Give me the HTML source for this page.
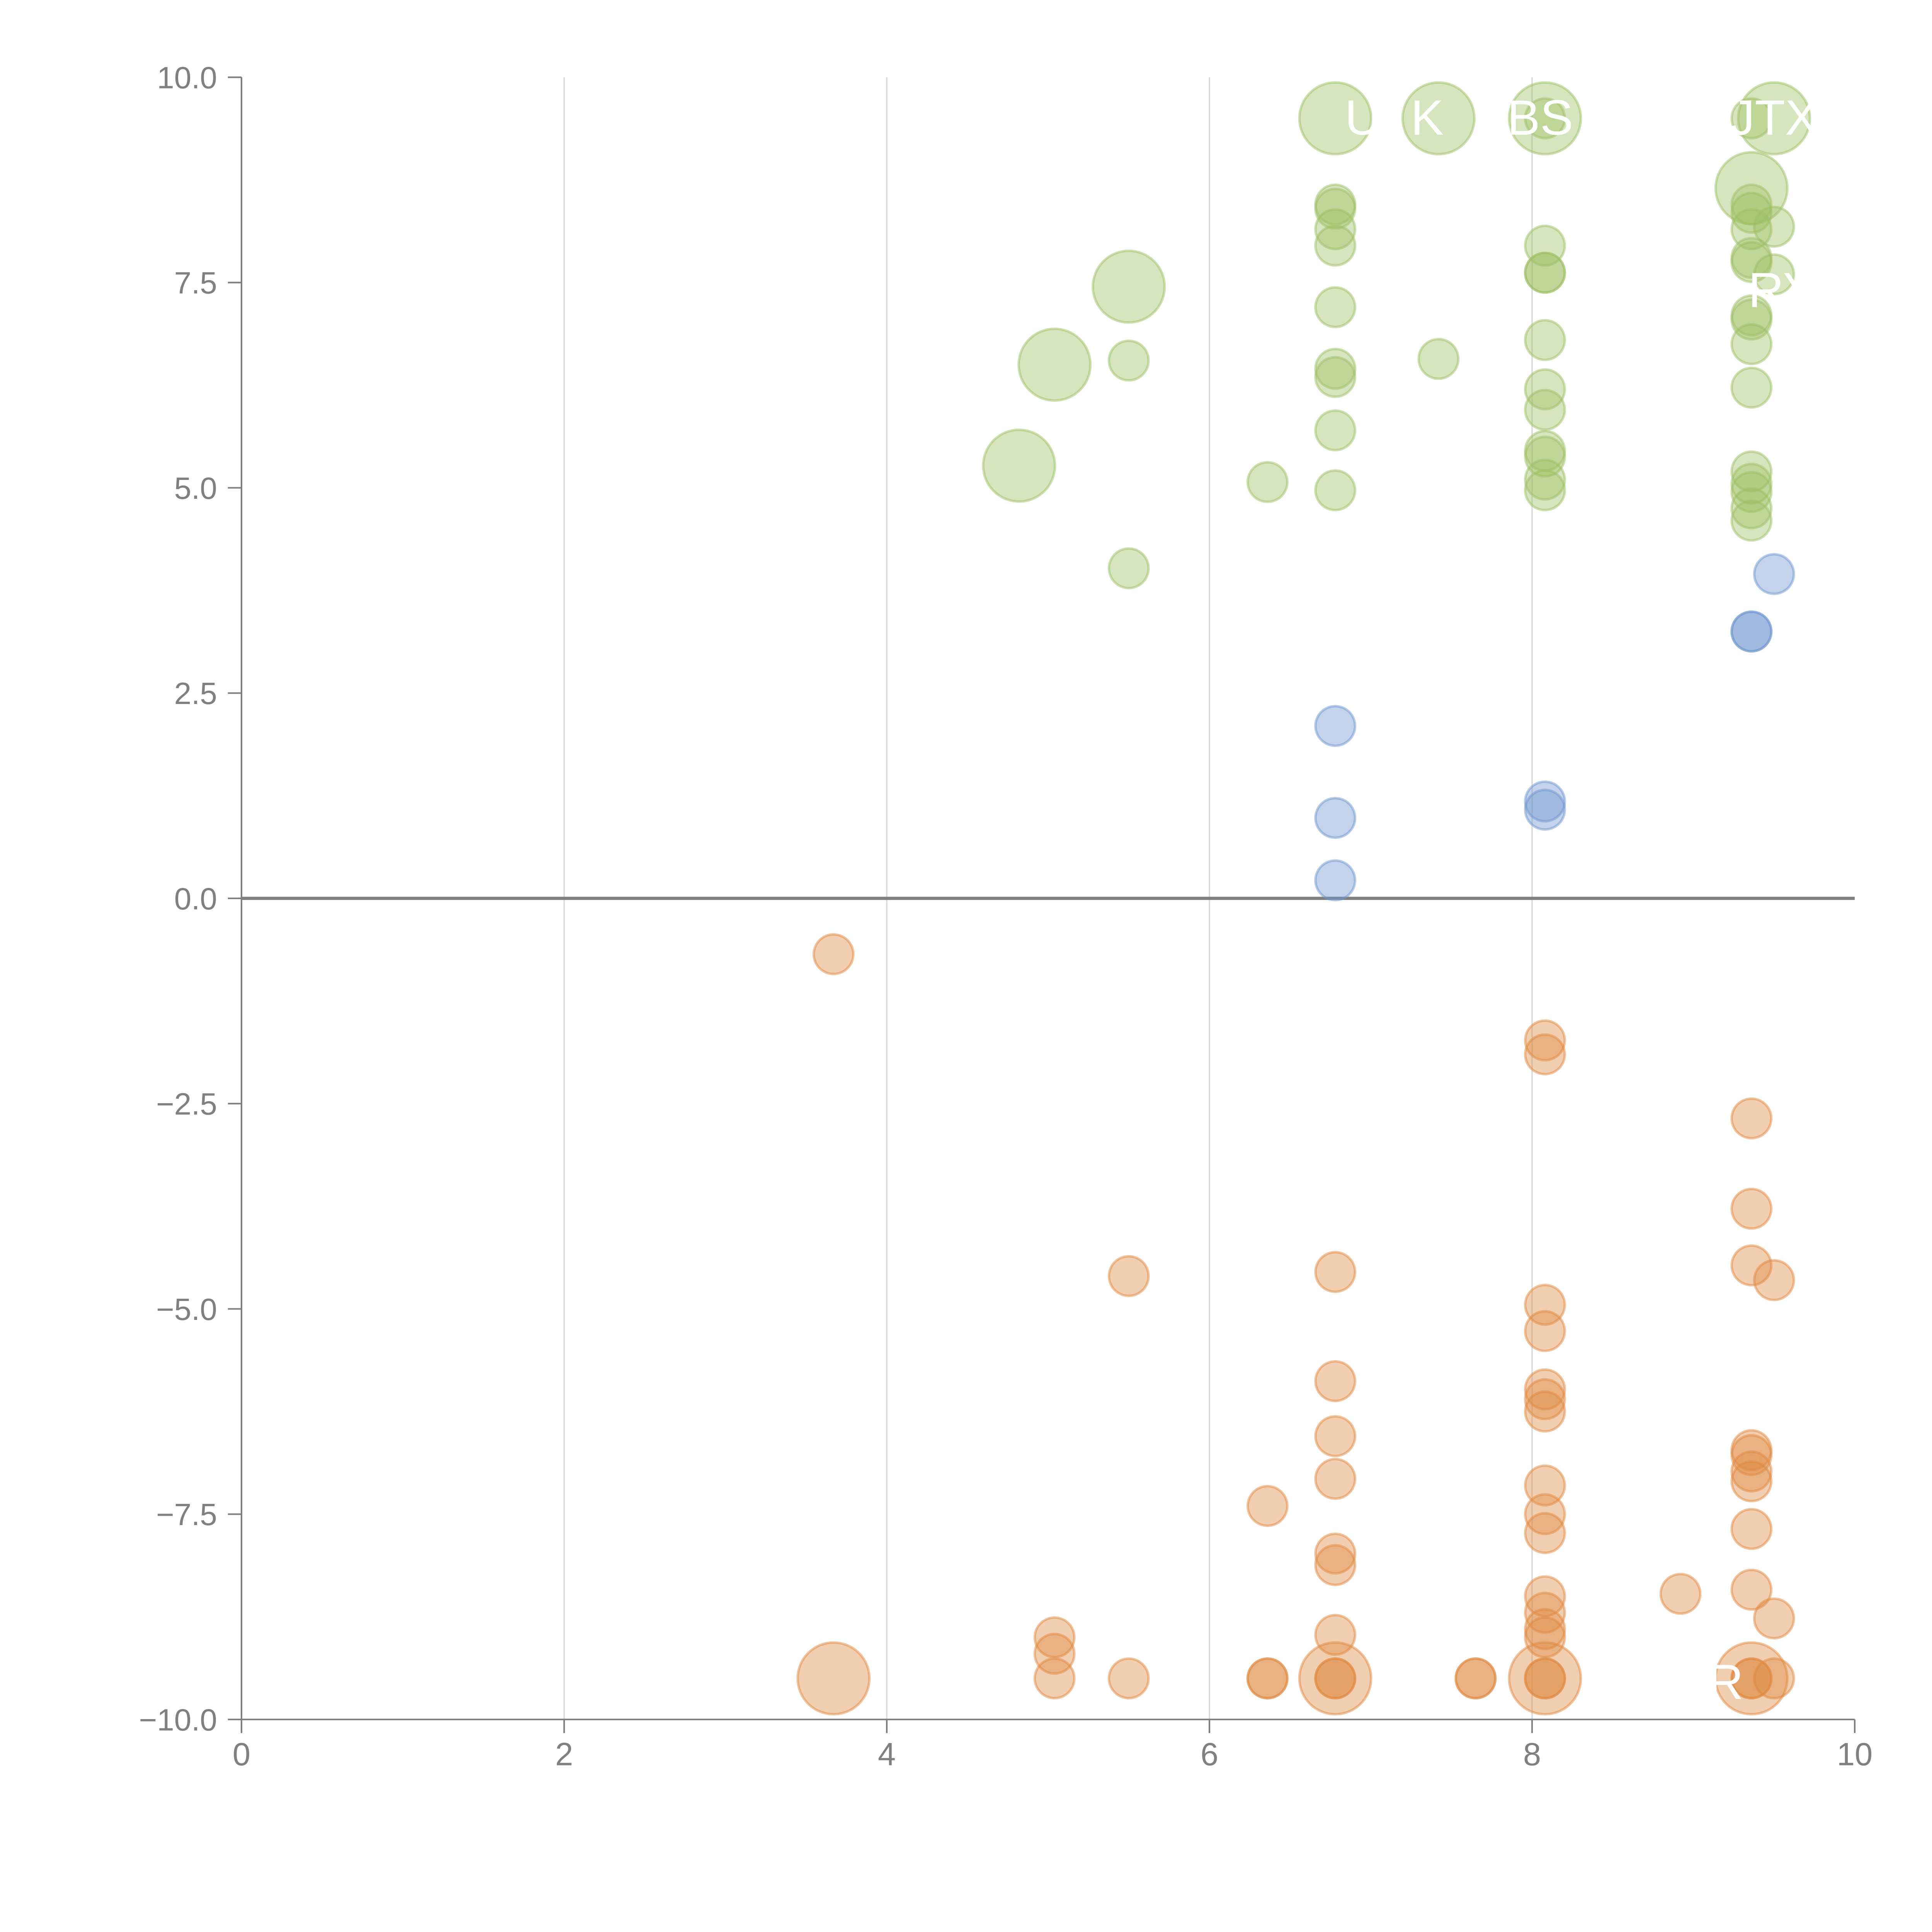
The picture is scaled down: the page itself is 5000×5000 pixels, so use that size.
<!DOCTYPE html>
<html><head><meta charset="utf-8"><style>
html,body{margin:0;padding:0;background:#fff;}
svg{display:block;}
text{font-family:"Liberation Sans",sans-serif;}
</style></head><body>
<svg id="chart" width="5000" height="5000" viewBox="0 0 1562.5 1562.5" xmlns="http://www.w3.org/2000/svg">
<g id="grid"></g>
<g id="axes"></g>
<g id="marks"></g>
<g id="labels"></g>
</svg>
<script>
const greenX=[6.78,7.42,8.08,8.08,9.36,9.5,9.36,6.78,6.78,6.78,6.78,6.78,6.78,6.78,6.78,6.78,5.5,5.5,5.5,5.04,4.82,6.36,7.42,8.08,8.08,8.08,8.08,8.08,8.08,8.08,8.08,8.08,8.08,9.36,9.36,9.36,9.36,9.36,9.36,9.36,9.36,9.36,9.36,9.36,9.36,9.36,9.36,9.5,9.5];
const greenY=[9.5,9.5,9.5,9.5,9.5,9.5,8.65,8.45,8.4,8.15,7.95,7.2,6.45,6.35,5.7,4.97,7.45,6.55,4.02,6.5,5.27,5.07,6.57,7.95,7.62,7.62,6.8,6.2,5.95,5.45,5.38,5.1,4.97,8.45,8.35,8.15,7.8,7.75,7.1,7.05,6.75,6.22,5.2,5.05,4.95,4.75,4.6,8.18,7.6];
const greenBig=[1,1,1,0,0,1,1,0,0,0,0,0,0,0,0,0,1,0,0,1,1,0,0,0,0,0,0,0,0,0,0,0,0,0,0,0,0,0,0,0,0,0,0,0,0,0,0,0,0];
const blueX=[9.5,9.36,9.36,6.78,6.78,6.78,8.08,8.08];
const blueY=[3.95,3.25,3.25,2.1,0.98,0.22,1.18,1.08];
const orangeX=[3.67,8.08,8.08,9.36,9.36,9.36,9.5,5.5,6.78,8.08,8.08,6.78,8.08,8.08,8.08,6.78,9.36,9.36,9.36,9.36,6.78,8.08,6.36,8.08,8.08,9.36,6.78,6.78,8.92,9.36,8.08,8.08,9.5,8.08,8.08,6.78,5.04,5.04,3.67,5.04,5.5,6.36,6.36,6.78,6.78,6.78,7.65,7.65,8.08,8.08,8.08,9.36,9.36,9.36,9.5];
const orangeY=[-0.68,-1.73,-1.9,-2.68,-3.78,-4.47,-4.65,-4.6,-4.55,-4.95,-5.27,-5.88,-5.98,-6.1,-6.25,-6.55,-6.72,-6.78,-6.98,-7.1,-7.07,-7.15,-7.4,-7.5,-7.73,-7.68,-7.98,-8.12,-8.47,-8.42,-8.5,-8.7,-8.77,-8.9,-9.0,-8.97,-9.0,-9.2,-9.5,-9.5,-9.5,-9.5,-9.5,-9.5,-9.5,-9.5,-9.5,-9.5,-9.5,-9.5,-9.5,-9.5,-9.5,-9.5,-9.5];
const orangeBig=[0,0,0,0,0,0,0,0,0,0,0,0,0,0,0,0,0,0,0,0,0,0,0,0,0,0,0,0,0,0,0,0,0,0,0,0,0,0,1,0,0,0,0,1,0,0,0,0,1,0,0,1,0,0,0];
const xTicks=[0,2,4,6,8,10];
const yTicks=[10,7.5,5,2.5,0,-2.5,-5,-7.5,-10];
const pointLabels=["U","K","BS","JTX","RY","R"];
const labelX=[6.95,7.35,8.05,9.5,9.55,9.2];
const labelY=[9.3,9.3,9.3,9.3,7.2,-9.75];

const NS="http://www.w3.org/2000/svg";
const X0=195.3,X1=1500,Y0=1390.6,Y1=62.5;
const sx=v=>X0+(v-0)/10*(X1-X0);
const sy=v=>Y0-(v+10)/20*(Y0-Y1);
function mk(tag,attrs,parent){const e=document.createElementNS(NS,tag);for(const k in attrs)e.setAttribute(k,attrs[k]);parent.appendChild(e);return e;}
const grid=document.getElementById('grid'),axes=document.getElementById('axes'),marks=document.getElementById('marks'),labels=document.getElementById('labels');

xTicks.forEach(t=>{
  if(t>0&&t<10){const g=mk('line',{x1:sx(t),x2:sx(t),y1:Y1,y2:Y0,stroke:'#d6d6d6','stroke-width':1},grid);
  
  }
  const tk=mk('line',{x1:sx(t),x2:sx(t),y1:Y0,y2:Y0+11,stroke:'#808080','stroke-width':1.3},axes);
  
  
  const tx=mk('text',{x:sx(t),y:Y0+37,'text-anchor':'middle','font-size':26,fill:'#808080'},axes);
  tx.textContent=String(t);
  
  
});
yTicks.forEach(t=>{
  const tk=mk('line',{x1:X0-11,x2:X0,y1:sy(t),y2:sy(t),stroke:'#808080','stroke-width':1.3},axes);
  
  
  const tx=mk('text',{x:X0-19.7,y:sy(t)+8.9,'text-anchor':'end','font-size':25,fill:'#808080'},axes);
  tx.textContent=t.toFixed(1).replace('-','\u2212');
  
  
});
const ys=mk('line',{x1:X0,x2:X0,y1:Y1,y2:Y0,stroke:'#808080','stroke-width':1.3},axes);


const xs=mk('line',{x1:X0,x2:X1,y1:Y0,y2:Y0,stroke:'#808080','stroke-width':1.3},axes);


const zl=mk('line',{x1:X0,x2:X1,y1:sy(0),y2:sy(0),stroke:'#808080','stroke-width':2.6},axes);



function series(xsA,ysA,big,fill,stroke,name){
  xsA.forEach((x,i)=>{
    const r=big&&big[i]?29:16;
    const c=mk('circle',{cx:sx(x),cy:sy(ysA[i]),r:r,fill:fill,'fill-opacity':0.42,stroke:stroke,'stroke-opacity':0.5,'stroke-width':2},marks);
    
    
  });
}
series(greenX,greenY,greenBig,'#9dc065','#9dc065','green-bubble');
series(blueX,blueY,null,'#6f97d0','#6f97d0','blue-bubble');
series(orangeX,orangeY,orangeBig,'#e08a42','#e08a42','orange-bubble');

pointLabels.forEach((s,i)=>{
  const t=mk('text',{x:sx(labelX[i]),y:sy(labelY[i]),'text-anchor':'middle','font-size':40,fill:'#ffffff'},labels);
  t.textContent=s;
  
  
});
</script>
</body></html>
